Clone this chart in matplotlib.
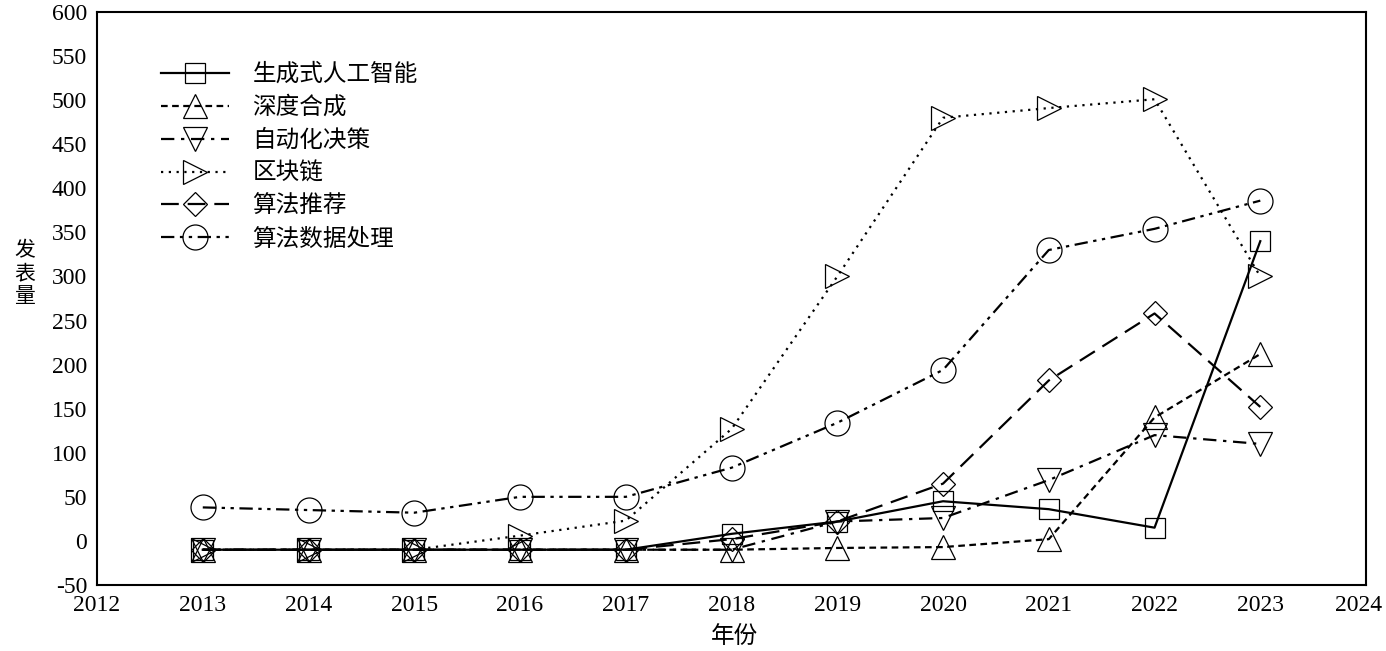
import matplotlib
matplotlib.use("Agg")
import matplotlib.pyplot as plt
import matplotlib.transforms as mtransforms

years = [2013, 2014, 2015, 2016, 2017, 2018, 2019, 2020, 2021, 2022, 2023]
series_names = ["生成式人工智能", "深度合成", "自动化决策", "区块链", "算法推荐", "算法数据处理"]
gen_ai = [-10, -10, -10, -10, -10, 8, 22, 45, 36, 15, 340]
deep_synth = [-10, -10, -10, -10, -10, -10, -8, -7, 2, 140, 212]
auto_decision = [-10, -10, -10, -10, -10, -10, 22, 26, 69, 120, 110]
blockchain = [-10, -10, -10, 6, 23, 127, 300, 480, 491, 501, 300]
algo_recommend = [-10, -10, -10, -10, -10, 2, 22, 65, 182, 258, 152]
algo_data = [38, 35, 32, 50, 50, 83, 134, 194, 330, 354, 386]
y_ticks = list(range(-50, 601, 50))
x_ticks = list(range(2012, 2025))

plt.rcParams['font.family'] = ['Liberation Serif', 'Noto Sans CJK SC']
plt.rcParams['axes.unicode_minus'] = False
cjk = ['Noto Sans CJK SC', 'DejaVu Sans']

fig = plt.figure(figsize=(13.86, 6.51), dpi=100)
ax = fig.add_axes([0.070, 0.1014, 0.9156, 0.8802])

data = [gen_ai, deep_synth, auto_decision, blockchain, algo_recommend, algo_data]
markers = ['s', '^', 'v', '>', 'D', 'o']
msizes = [15, 17, 17, 17, 12, 18]
styles = ['-', (0, (3, 2)), (0, (6, 3, 1.5, 3)), (0, (1, 2.5)), (0, (8, 4)), (0, (6, 2.5, 1.5, 2.5, 1.5, 2.5))]
for name, vals, m, ms, ls in zip(series_names, data, markers, msizes, styles):
    ax.plot(years, vals, color='black', linestyle=ls, linewidth=1.6,
            marker=m, markersize=ms, markerfacecolor='none',
            markeredgecolor='black', markeredgewidth=0.9, label=name)

ax.set_xlim(2012, 2024)
ax.set_ylim(-50, 600)
ax.set_xticks(x_ticks)
ax.set_yticks(y_ticks)
ax.tick_params(length=0, labelsize=17, pad=7)
for s in ax.spines.values():
    s.set_linewidth(1.5)

# nudge the last x tick label inward so it stays inside the figure
last = ax.get_xticklabels()[-1]
last.set_transform(last.get_transform() + mtransforms.ScaledTranslation(-7 / 100, 0, fig.dpi_scale_trans))

fig.text(0.018, 0.58, "发\n表\n量", fontsize=15, family=cjk, ha='center', va='center', linespacing=1.05)
fig.text(0.53, 0.022, "年份", fontsize=17, family=cjk, ha='center', va='center')

leg = ax.legend(loc='upper left', bbox_to_anchor=(0.034, 0.948), frameon=False,
                prop={'family': cjk, 'size': 17}, handlelength=2.85, labelspacing=0.42,
                handletextpad=1.0)

fig.savefig("out.png", dpi=100)
